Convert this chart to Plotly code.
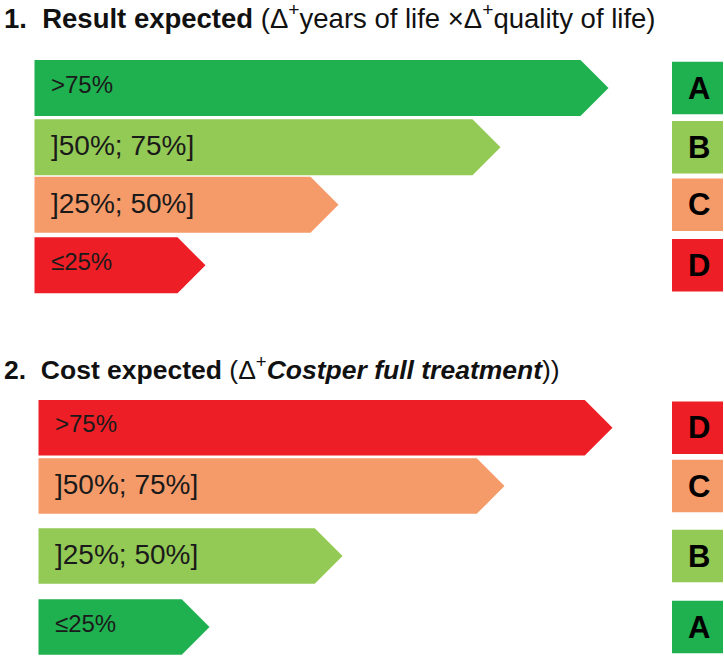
import plotly.graph_objects as go

# ---- data ----
range_labels = [">75%", "]50%; 75%]", "]25%; 50%]", "≤25%"]
arrow_lengths = [574, 466, 304, 171]          # arrow length incl. tip (axis units = px)
result_grades = ["A", "B", "C", "D"]
cost_grades = ["D", "C", "B", "A"]
grade_colors = {"A": "#1FB04F", "B": "#93C955", "C": "#F59A69", "D": "#ED1E25"}

title1 = "<b>1.  Result expected</b> (Δ<sup>+</sup>years of life ×Δ<sup>+</sup>quality of life)"
title2 = "<b>2.  Cost expected</b> (Δ<sup>+</sup><b><i>Costper full treatment</i></b>))"

# ---- layout / style constants ----
W, H = 724, 656
panels = [
    dict(grades=result_grades, left=34.5, tops=[60, 119.3, 176.7, 237.3], bh=56,
         title=title1, ty=16.5, tsize=27.5),
    dict(grades=cost_grades, left=38.5, tops=[400, 458.3, 528.3, 599.3], bh=55.5,
         title=title2, ty=368, tsize=26.5),
]
label_sizes = [24, 28, 28, 24]
label_dy = [-4, -1.5, -1.5, -4]
box_x0, box_x1, box_h = 672, 723, 52.5
FONT = "Liberation Sans, Arial, sans-serif"

fig = go.Figure()
annotations = []
for p in panels:
    for i, (lab, L, g) in enumerate(zip(range_labels, arrow_lengths, p["grades"])):
        top = p["tops"][i]
        bot = top + p["bh"]
        mid = (top + bot) / 2
        half = p["bh"] / 2
        x0 = p["left"]
        xe = x0 + L
        xs = [x0, xe - half, xe, xe - half, x0, x0]
        ys = [top, top, mid, bot, bot, top]
        fig.add_trace(go.Scatter(x=xs, y=ys, mode="lines", fill="toself",
                                 fillcolor=grade_colors[g], line=dict(width=0),
                                 hoverinfo="skip", showlegend=False))
        annotations.append(dict(x=x0 + 14, y=mid + label_dy[i], xref="x", yref="y", text=lab,
                                showarrow=False, xanchor="left", yanchor="middle",
                                font=dict(family=FONT, size=label_sizes[i], color="#1a1a1a")))
        btop = mid - box_h / 2
        bbot = mid + box_h / 2
        fig.add_trace(go.Scatter(x=[box_x0, box_x1, box_x1, box_x0, box_x0],
                                 y=[btop, btop, bbot, bbot, btop], mode="lines", fill="toself",
                                 fillcolor=grade_colors[g], line=dict(width=0),
                                 hoverinfo="skip", showlegend=False))
        annotations.append(dict(x=(box_x0 + box_x1) / 2 + 1.5, y=mid, xref="x", yref="y",
                                text="<b>" + g + "</b>", showarrow=False,
                                xanchor="center", yanchor="middle",
                                font=dict(family=FONT, size=31, color="#000000")))
    annotations.append(dict(x=2, y=p["ty"], xref="x", yref="y", text=p["title"], showarrow=False,
                            xanchor="left", yanchor="middle",
                            font=dict(family=FONT, size=p["tsize"], color="#111111")))

fig.update_layout(
    width=W, height=H, margin=dict(l=0, r=0, t=0, b=0),
    paper_bgcolor="white", plot_bgcolor="white",
    xaxis=dict(range=[0, W], visible=False, fixedrange=True),
    yaxis=dict(range=[H, 0], visible=False, fixedrange=True),
    annotations=annotations,
)
fig.write_html("out.html", config={"displayModeBar": False},
               post_script="document.body.style.margin='0';document.body.style.overflow='hidden';")
